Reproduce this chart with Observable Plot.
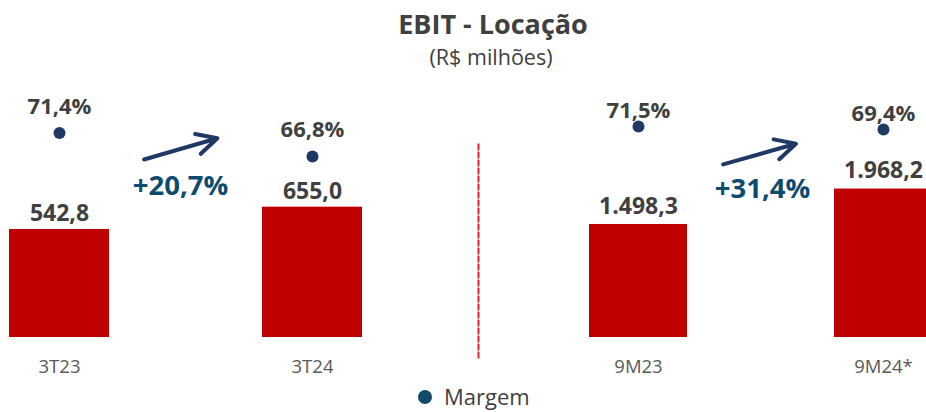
<!DOCTYPE html>
<html><head><meta charset="utf-8">
<script src="https://cdn.jsdelivr.net/npm/d3@7"></script>
<script src="https://cdn.jsdelivr.net/npm/@observablehq/plot@0.6"></script>
<style>
body{margin:0;background:#fff;font-family:"Open Sans",sans-serif;}
#wrap{position:relative;width:926px;height:412px;overflow:hidden;background:#fff;}
.ttl{position:absolute;white-space:nowrap;transform:translateX(-50%);color:#404040;}
#title{left:493px;top:7px;font-size:27px;line-height:34px;font-weight:700;}
#subtitle{left:491px;top:44px;font-size:21.5px;line-height:26px;}
.panel{position:absolute;top:80px;height:300px;}
.panel svg{position:absolute;left:0;top:0;}
#legend{position:absolute;left:418px;top:383px;height:27px;display:flex;align-items:center;}
#legend .sw{width:14px;height:14px;border-radius:50%;background:#124a6b;margin-right:12px;}
#legend .lb{font-size:22px;line-height:27px;color:#404040;}
</style></head>
<body>
<div id="wrap">
  <div id="title" class="ttl">EBIT - Locação</div>
  <div id="subtitle" class="ttl">(R$ milhões)</div>
  <div id="p1" class="panel"></div>
  <div id="p2" class="panel"></div>
  <div id="legend"><span class="sw"></span><span class="lb">Margem</span></div>
</div>
<script>
// ---- data ----
const quarterCats = ["3T23", "3T24"];
const quarterEbit = [542.8, 655.0];
const quarterMargin = [71.4, 66.8];
const ytdCats = ["9M23", "9M24*"];
const ytdEbit = [1498.3, 1968.2];
const ytdMargin = [71.5, 69.4];

const loc = d3.formatLocale({decimal: ",", thousands: ".", grouping: [3], currency: ["R$ ", ""]});
const fmtVal = loc.format(",.1f");
const fmtPct = loc.format(".1f");
const FONT = '"Open Sans", sans-serif';

function makePanel(el, o) {
  const data = o.cats.map((c, i) => ({cat: c, value: o.values[i], margin: o.margins[i]}));
  const growth = o.values[1] / o.values[0] - 1;
  const common = {
    width: o.width, height: 300, marginTop: 64, marginBottom: 22, marginLeft: 1, marginRight: 0,
    style: {fontFamily: FONT, background: "transparent", overflow: "hidden"}
  };
  const xScale = {type: "band", domain: o.cats, range: o.xRange, paddingInner: o.pad, paddingOuter: 0};
  const marks = [
    Plot.barY(data, {x: "cat", y: "value", fill: "#c00000"}),
    Plot.text(data, {x: "cat", y: "value", text: d => fmtVal(d.value), dy: o.labelDy,
      fontSize: 23, fontWeight: 700, fill: "#404040"}),
    Plot.axisX({tickSize: 0, tickPadding: 1, fontSize: 18.5, color: "#595959", label: null}),
    Plot.arrow([o.arrow], {x1: () => o.cats[0], x2: () => o.cats[1], y1: "y1", y2: "y2",
      insetStart: o.arrow.inS, insetEnd: o.arrow.inE, stroke: "#203864", strokeWidth: 4,
      headLength: 8.5, headAngle: 54}),
    Plot.text([o.growthPos], {x: () => o.cats[0], y: "y", dx: o.growthPos.dx,
      text: () => "+" + fmtPct(growth * 100) + "%", fontSize: 27.5, fontWeight: 700, fill: "#0f4b6e"})
  ];
  if (o.separator) marks.push(Plot.frame({anchor: "left", stroke: "#e0282e", strokeWidth: 2, strokeDasharray: "5,3"}));
  const bars = Plot.plot({...common, x: xScale, y: {domain: o.yDomain, range: o.yRange, axis: null}, marks});
  const dots = Plot.plot({...common, x: {...xScale, axis: null}, y: {domain: [60, 80], range: o.mRange, axis: null},
    marks: [
      Plot.dot(data, {x: "cat", y: "margin", r: 6, fill: "#203864"}),
      Plot.text(data, {x: "cat", y: "margin", text: d => fmtPct(d.margin) + "%", dy: o.marginDy,
        fontSize: 22, fontWeight: 700, fill: "#404040"})
    ]});
  el.append(bars, dots);
}

const p1 = document.getElementById("p1");
p1.style.left = "0px"; p1.style.width = "477px";
makePanel(p1, {
  cats: quarterCats, values: quarterEbit, margins: quarterMargin,
  width: 477, xRange: [8, 362], pad: 0.606,
  yDomain: [0, 1000], yRange: [257, 58], mRange: [110.8, 8.6],
  labelDy: -16, marginDy: -26.5,
  arrow: {y1: 772, y2: 1139, inS: 88, inE: 99},
  growthPos: {y: 759, dx: 121},
  separator: false
});
const p2 = document.getElementById("p2");
p2.style.left = "477px"; p2.style.width = "449px";
makePanel(p2, {
  cats: ytdCats, values: ytdEbit, margins: ytdMargin,
  width: 449, xRange: [111, 455], pad: 0.6,
  yDomain: [0, 3000], yRange: [257, 30.7], mRange: [62.4, 33.9],
  labelDy: -18, marginDy: -15.5,
  arrow: {y1: 1977, y2: 2897, inS: 88, inE: 91},
  growthPos: {y: 1962, dx: 124},
  separator: true
});
</script>
</body></html>
